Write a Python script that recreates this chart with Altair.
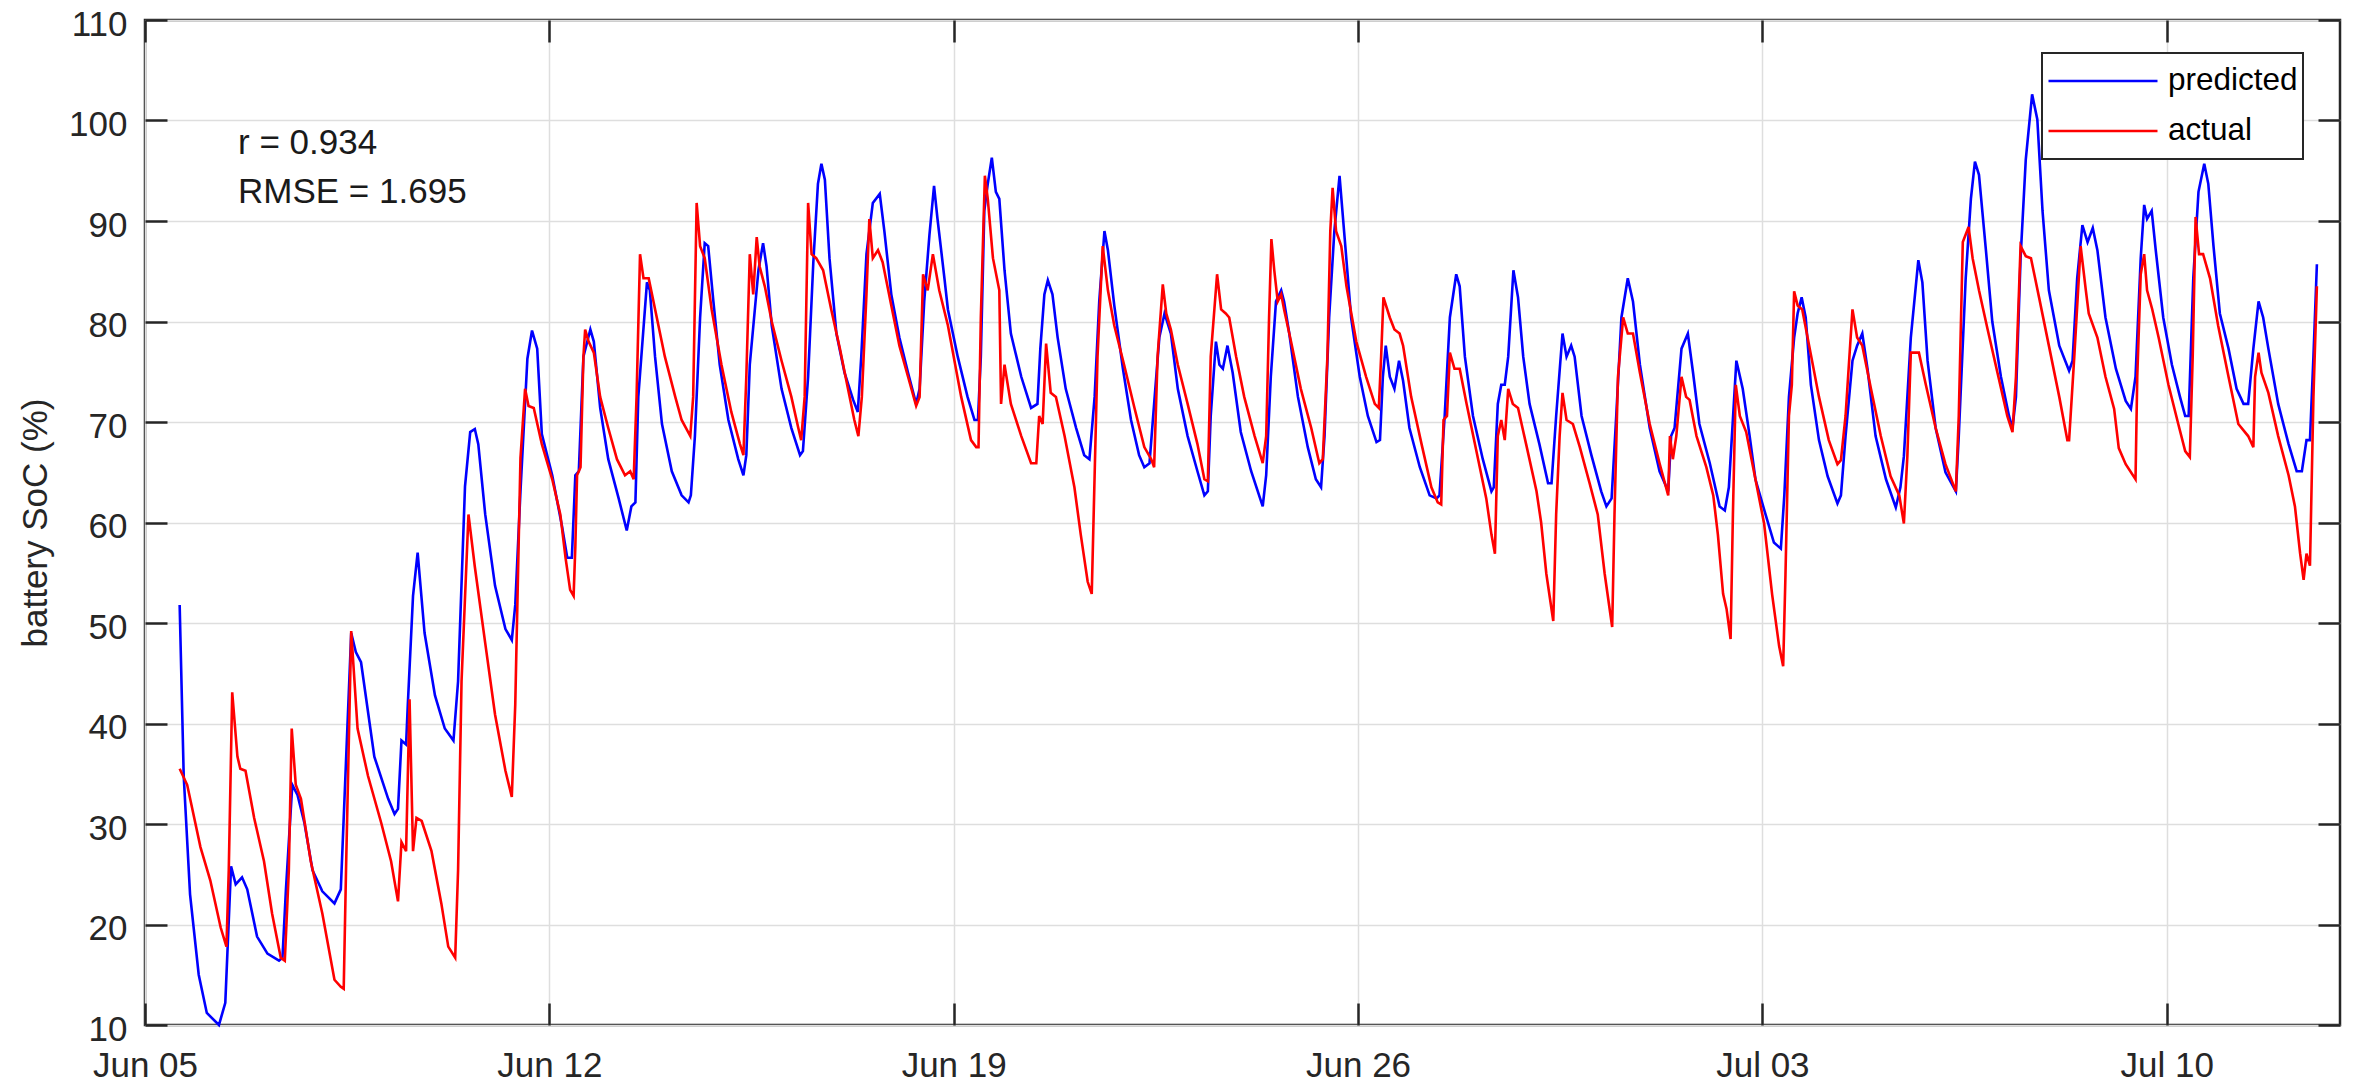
import altair as alt
import pandas as pd

# ---- data: (days since Jun 05 00:00, battery SoC %) ----
predicted_points = [
    (0.60, 51.8), (0.67, 34.8), (0.78, 23.0), (0.93, 15.0), (1.07, 11.2), (1.28, 10.0), (1.39, 12.2),
    (1.49, 25.8), (1.57, 24.0), (1.68, 24.7), (1.77, 23.5), (1.94, 18.8), (2.12, 17.1), (2.32, 16.4),
    (2.38, 16.7), (2.44, 23.5), (2.55, 33.9), (2.64, 32.9), (2.76, 30.1), (2.90, 25.4), (3.07, 23.3),
    (3.28, 22.1), (3.39, 23.5), (3.57, 49.0), (3.65, 47.1), (3.74, 46.1), (3.97, 36.7), (4.21, 32.5),
    (4.32, 31.0), (4.38, 31.5), (4.44, 38.3), (4.52, 37.9), (4.55, 41.9), (4.64, 52.7), (4.72, 57.0),
    (4.84, 49.0), (5.02, 42.8), (5.19, 39.5), (5.34, 38.3), (5.42, 44.2), (5.54, 63.6), (5.63, 69.0),
    (5.71, 69.3), (5.77, 67.8), (5.89, 60.8), (6.06, 53.7), (6.24, 49.4), (6.35, 48.3), (6.41, 51.8),
    (6.50, 63.1), (6.62, 76.3), (6.70, 79.1), (6.79, 77.3), (6.87, 68.8),
    (7.05, 64.7), (7.22, 59.6), (7.31, 56.5), (7.39, 56.5), (7.45, 64.7), (7.51, 65.1), (7.59, 76.5),
    (7.71, 79.2), (7.77, 78.0), (7.88, 71.4), (8.02, 66.3), (8.20, 62.4), (8.34, 59.2), (8.38, 60.4),
    (8.42, 61.6), (8.49, 62.0), (8.54, 72.5), (8.69, 83.9), (8.74, 83.1), (8.83, 76.5), (8.95, 69.8),
    (9.12, 65.1), (9.29, 62.7), (9.41, 62.0), (9.45, 62.7), (9.52, 68.6), (9.61, 80.4), (9.69, 87.8),
    (9.75, 87.5), (9.84, 82.0), (9.95, 75.7), (10.10, 70.2), (10.27, 66.3), (10.36, 64.7), (10.41, 66.7),
    (10.47, 75.7), (10.62, 85.1), (10.70, 87.8), (10.76, 85.5), (10.85, 79.6), (11.02, 73.3), (11.19, 69.4),
    (11.34, 66.7), (11.39, 67.1), (11.48, 74.5), (11.57, 85.9), (11.65, 93.7), (11.71, 95.7), (11.77, 94.1),
    (11.85, 86.3), (11.97, 78.8), (12.11, 74.9), (12.26, 72.2), (12.34, 71.0), (12.40, 76.5), (12.49, 86.7),
    (12.60, 91.8), (12.72, 92.7), (12.80, 89.0), (12.92, 82.7), (13.06, 78.4), (13.21, 74.9), (13.35, 71.8),
    (13.41, 73.3), (13.49, 82.0), (13.58, 88.6), (13.66, 93.5), (13.72, 90.2), (13.84, 84.3), (13.90, 81.2),
    (14.07, 76.5), (14.24, 72.5), (14.36, 70.2), (14.42, 70.2), (14.47, 76.5), (14.53, 91.0), (14.59, 93.7),
    (14.66, 96.3), (14.73, 92.9), (14.79, 92.2), (14.88, 85.1), (14.99, 78.8), (15.17, 74.5), (15.34, 71.4),
    (15.45, 71.8), (15.50, 77.3), (15.57, 82.7), (15.63, 84.1), (15.71, 82.7), (15.80, 78.4), (15.94, 73.3),
    (16.12, 69.4), (16.26, 66.7), (16.35, 66.3), (16.44, 72.5), (16.52, 82.0), (16.61, 89.0), (16.67, 87.1),
    (16.78, 81.6), (16.93, 75.3), (17.07, 70.2), (17.21, 66.7), (17.30, 65.5), (17.39, 65.9), (17.47, 71.8),
    (17.56, 78.4), (17.65, 80.8), (17.76, 78.8), (17.88, 73.3), (18.05, 68.6), (18.22, 65.1), (18.34, 62.7),
    (18.40, 63.1), (18.45, 70.6), (18.54, 78.0), (18.60, 75.7), (18.66, 75.3), (18.74, 77.6), (18.83, 74.9),
    (18.97, 69.0), (19.15, 65.1), (19.35, 61.6), (19.41, 64.7), (19.49, 74.5), (19.58, 82.0), (19.67, 83.1),
    (19.72, 82.0), (19.81, 78.8), (19.96, 72.5), (20.13, 67.5), (20.27, 64.3), (20.36, 63.5), (20.42, 68.6),
    (20.50, 80.4), (20.59, 89.0), (20.68, 94.5), (20.77, 88.2), (20.88, 80.4), (21.03, 74.5), (21.17, 70.6),
    (21.32, 68.0), (21.38, 68.2), (21.43, 74.5), (21.48, 77.6), (21.55, 74.5), (21.63, 73.3), (21.71, 76.1),
    (21.78, 74.1), (21.89, 69.4), (22.07, 65.5), (22.24, 62.7), (22.36, 62.4), (22.41, 62.7), (22.50, 70.6),
    (22.59, 80.4), (22.70, 84.7), (22.76, 83.5), (22.85, 76.5), (22.99, 70.6), (23.16, 66.3), (23.31, 63.1),
    (23.35, 63.5), (23.42, 71.8), (23.48, 73.7), (23.54, 73.7), (23.60, 76.5), (23.69, 85.1), (23.77, 82.4),
    (23.86, 76.5), (23.97, 71.8), (24.14, 67.8), (24.29, 63.9), (24.35, 63.9), (24.43, 70.6), (24.54, 78.8),
    (24.61, 76.5), (24.69, 77.6), (24.75, 76.5), (24.87, 70.6), (25.04, 66.7), (25.21, 63.1), (25.30, 61.6),
    (25.39, 62.4), (25.47, 70.6), (25.56, 80.4), (25.67, 84.3), (25.76, 82.0), (25.88, 75.7), (26.05, 69.4),
    (26.22, 65.1), (26.37, 63.1), (26.42, 68.6), (26.48, 69.4), (26.60, 77.3), (26.71, 78.8), (26.80, 74.9),
    (26.91, 69.8), (27.09, 65.9), (27.26, 61.6), (27.35, 61.2), (27.42, 63.5), (27.55, 76.1), (27.66, 73.3),
    (27.78, 68.6), (27.88, 64.3), (28.06, 60.7), (28.20, 58.0), (28.32, 57.4), (28.38, 62.7), (28.46, 72.5),
    (28.55, 78.4), (28.61, 80.8), (28.68, 82.4), (28.75, 80.4), (28.84, 73.7), (28.98, 68.2), (29.13, 64.6),
    (29.30, 61.9), (29.36, 62.7), (29.44, 68.6), (29.56, 76.1), (29.64, 77.6), (29.73, 78.8), (29.82, 75.3),
    (29.96, 68.6), (30.14, 64.3), (30.31, 61.5), (30.39, 63.5), (30.45, 66.6), (30.57, 78.4), (30.70, 86.1),
    (30.77, 83.9), (30.86, 76.1), (31.00, 69.4), (31.17, 65.0), (31.35, 63.1), (31.40, 68.6), (31.52, 84.3),
    (31.61, 92.2), (31.68, 95.9), (31.75, 94.6), (31.87, 87.1), (31.98, 80.0), (32.13, 74.5), (32.27, 70.6),
    (32.33, 69.4), (32.39, 72.5), (32.47, 86.3), (32.56, 96.1), (32.67, 102.6), (32.76, 100.1), (32.85, 91.0),
    (32.96, 83.1), (33.14, 77.6), (33.31, 75.1), (33.37, 76.1), (33.45, 84.3), (33.54, 89.6), (33.63, 87.9),
    (33.72, 89.3), (33.80, 87.1), (33.94, 80.4), (34.12, 75.3), (34.29, 72.1), (34.38, 71.3), (34.46, 74.5),
    (34.55, 86.3), (34.61, 91.6), (34.66, 90.2), (34.74, 91.0), (34.81, 87.1), (34.94, 80.4), (35.09, 75.7),
    (35.23, 72.5), (35.32, 70.6), (35.38, 70.6), (35.46, 84.3), (35.55, 92.9), (35.65, 95.7), (35.72, 93.7),
    (35.81, 87.5), (35.92, 80.8), (36.07, 77.3), (36.21, 73.3), (36.33, 71.8), (36.41, 71.8), (36.50, 77.3),
    (36.59, 82.0), (36.67, 80.4), (36.76, 77.3), (36.93, 71.8), (37.11, 67.8), (37.25, 65.1), (37.34, 65.1),
    (37.42, 68.2), (37.48, 68.2), (37.54, 76.5), (37.60, 85.7),
]

actual_points = [
    (0.60, 35.5), (0.73, 33.9), (0.96, 27.7), (1.13, 24.4), (1.31, 19.7), (1.41, 17.8), (1.45, 25.4),
    (1.51, 43.1), (1.60, 36.7), (1.65, 35.5), (1.74, 35.3), (1.89, 30.6), (2.06, 26.3), (2.20, 21.1),
    (2.35, 16.7), (2.42, 16.4), (2.45, 20.2), (2.49, 25.4), (2.54, 39.5), (2.61, 33.9), (2.70, 32.5),
    (2.87, 26.3), (3.07, 21.1), (3.28, 14.5), (3.39, 13.8), (3.44, 13.6), (3.48, 25.4), (3.57, 49.2),
    (3.68, 39.5), (3.86, 34.8), (4.09, 30.1), (4.26, 26.3), (4.38, 22.3), (4.44, 28.2), (4.52, 27.3),
    (4.58, 42.4), (4.64, 27.3), (4.70, 30.6), (4.79, 30.3), (4.96, 27.3), (5.13, 22.1), (5.25, 17.8),
    (5.37, 16.7), (5.42, 25.4), (5.48, 44.2), (5.60, 60.8), (5.71, 55.6), (5.89, 48.0), (6.06, 40.9),
    (6.24, 35.3), (6.35, 32.7), (6.41, 41.9), (6.50, 66.4), (6.58, 73.3), (6.64, 71.6), (6.73, 71.4),
    (6.87, 67.8),
    (7.05, 64.3), (7.19, 60.8), (7.28, 56.5), (7.36, 53.3), (7.42, 52.7), (7.45, 57.6), (7.48, 64.7),
    (7.54, 65.5), (7.59, 76.5), (7.62, 79.2), (7.68, 78.0), (7.77, 76.9), (7.88, 72.5), (8.02, 69.4),
    (8.17, 66.3), (8.31, 64.7), (8.40, 65.1), (8.46, 64.3), (8.51, 72.5), (8.57, 86.7), (8.63, 84.3),
    (8.72, 84.3), (8.86, 80.4), (9.00, 76.5), (9.18, 72.5), (9.29, 70.2), (9.44, 68.6), (9.49, 72.5),
    (9.55, 91.8), (9.61, 87.5), (9.69, 86.3), (9.81, 81.2), (9.98, 75.7), (10.15, 71.0), (10.30, 67.8),
    (10.36, 66.7), (10.41, 74.5), (10.47, 86.7), (10.53, 82.7), (10.59, 88.4), (10.64, 85.5), (10.73, 83.5),
    (10.85, 80.0), (11.02, 76.1), (11.19, 72.5), (11.31, 69.4), (11.36, 68.2), (11.42, 72.5), (11.48, 91.8),
    (11.54, 86.7), (11.62, 86.3), (11.74, 85.1), (11.88, 81.2), (12.03, 77.3), (12.17, 73.3), (12.28, 70.2),
    (12.35, 68.6), (12.41, 72.5), (12.49, 82.7), (12.54, 90.2), (12.60, 86.3), (12.69, 87.1), (12.77, 85.9),
    (12.92, 81.6), (13.06, 77.6), (13.21, 74.5), (13.35, 71.6), (13.41, 72.5), (13.47, 84.7), (13.55, 83.1),
    (13.64, 86.7), (13.75, 83.1), (13.90, 79.6), (14.13, 72.5), (14.30, 68.2), (14.39, 67.5), (14.43, 67.5),
    (14.47, 80.4), (14.54, 94.5), (14.59, 92.2), (14.68, 86.3), (14.79, 83.1), (14.82, 71.8), (14.88, 75.7),
    (14.99, 71.8), (15.17, 68.6), (15.34, 65.9), (15.43, 65.9), (15.48, 70.6), (15.54, 69.8), (15.60, 77.8),
    (15.68, 72.9), (15.77, 72.5), (15.92, 68.6), (16.09, 63.5), (16.20, 58.8), (16.32, 54.1), (16.39, 52.9),
    (16.44, 64.7), (16.49, 76.5), (16.58, 87.5), (16.67, 83.1), (16.78, 79.6), (16.95, 75.7), (17.13, 71.4),
    (17.30, 67.5), (17.42, 66.3), (17.47, 65.5), (17.53, 76.5), (17.62, 83.7), (17.68, 80.8), (17.76, 79.2),
    (17.88, 75.7), (18.05, 71.8), (18.22, 67.8), (18.34, 64.3), (18.40, 64.1), (18.45, 76.5), (18.56, 84.7),
    (18.63, 81.2), (18.71, 80.8), (18.77, 80.4), (18.89, 76.5), (19.03, 72.5), (19.21, 68.6), (19.35, 65.9),
    (19.41, 68.6), (19.46, 80.4), (19.50, 88.2), (19.55, 85.1), (19.61, 82.0), (19.67, 82.7), (19.72, 81.2),
    (19.84, 78.0), (20.01, 73.3), (20.19, 69.4), (20.33, 65.9), (20.39, 66.3), (20.47, 76.5), (20.52, 89.0),
    (20.56, 93.3), (20.62, 89.0), (20.71, 87.5), (20.80, 83.5), (20.97, 78.0), (21.14, 74.5), (21.29, 71.8),
    (21.36, 71.4), (21.40, 76.5), (21.44, 82.4), (21.55, 80.4), (21.63, 79.2), (21.72, 78.8), (21.78, 77.6),
    (21.92, 72.5), (22.10, 67.8), (22.27, 63.5), (22.38, 62.0), (22.44, 61.8), (22.48, 70.2), (22.54, 70.6),
    (22.59, 76.9), (22.67, 75.3), (22.76, 75.3), (22.88, 71.8), (23.05, 67.1), (23.22, 62.4), (23.31, 58.8),
    (23.37, 56.9), (23.42, 68.6), (23.48, 70.2), (23.54, 68.2), (23.60, 73.3), (23.68, 71.8), (23.77, 71.4),
    (23.91, 67.8), (24.09, 63.1), (24.17, 60.0), (24.26, 54.9), (24.38, 50.2), (24.43, 60.8), (24.49, 68.6),
    (24.54, 72.9), (24.61, 70.2), (24.72, 69.8), (24.84, 67.5), (25.01, 63.9), (25.15, 60.8), (25.27, 54.9),
    (25.40, 49.6), (25.44, 60.8), (25.50, 74.5), (25.59, 80.4), (25.67, 78.8), (25.76, 78.8), (25.88, 74.9),
    (26.05, 69.8), (26.22, 65.9), (26.37, 62.7), (26.40, 68.6), (26.45, 66.3), (26.51, 68.6), (26.60, 74.5),
    (26.68, 72.5), (26.74, 72.2), (26.86, 68.6), (27.03, 65.5), (27.15, 62.7), (27.23, 58.8), (27.32, 52.9),
    (27.38, 51.4), (27.45, 48.4), (27.49, 60.8), (27.54, 73.7), (27.61, 70.6), (27.72, 69.0), (27.88, 64.3),
    (28.03, 59.9), (28.17, 52.8), (28.29, 47.7), (28.36, 45.7), (28.40, 54.8), (28.46, 70.6), (28.51, 73.7),
    (28.55, 83.0), (28.61, 81.6), (28.69, 81.2), (28.81, 77.6), (28.98, 72.5), (29.15, 68.2), (29.30, 65.8),
    (29.36, 66.2), (29.44, 70.6), (29.56, 81.2), (29.64, 78.4), (29.73, 77.6), (29.88, 73.3), (30.05, 68.6),
    (30.22, 64.6), (30.37, 62.7), (30.45, 59.9), (30.51, 66.6), (30.57, 76.9), (30.71, 76.9), (30.83, 73.7),
    (31.00, 69.4), (31.17, 65.8), (31.35, 63.1), (31.40, 70.6), (31.47, 87.9), (31.57, 89.4), (31.64, 86.3),
    (31.75, 83.1), (31.90, 79.2), (32.07, 74.9), (32.24, 70.6), (32.33, 69.0), (32.39, 74.5), (32.47, 87.5),
    (32.56, 86.5), (32.65, 86.3), (32.79, 82.4), (32.96, 77.6), (33.14, 72.5), (33.28, 68.2), (33.31, 68.2),
    (33.40, 76.5), (33.51, 87.5), (33.60, 83.1), (33.65, 80.8), (33.80, 78.4), (33.94, 74.5), (34.09, 71.3),
    (34.17, 67.4), (34.29, 65.8), (34.46, 64.3), (34.49, 74.5), (34.55, 84.7), (34.61, 86.7), (34.66, 83.1),
    (34.75, 81.2), (34.86, 78.4), (35.03, 73.7), (35.20, 69.8), (35.32, 67.1), (35.40, 66.5), (35.45, 76.5),
    (35.50, 90.4), (35.56, 86.7), (35.63, 86.7), (35.75, 84.3), (35.89, 79.6), (36.07, 74.5), (36.24, 69.8),
    (36.41, 68.6), (36.50, 67.5), (36.53, 74.5), (36.59, 76.9), (36.64, 74.9), (36.76, 72.9), (36.93, 68.6),
    (37.11, 64.7), (37.22, 61.6), (37.31, 56.9), (37.37, 54.3), (37.42, 56.9), (37.48, 55.7), (37.54, 72.5),
    (37.60, 83.5),
]

series_names = ["predicted", "actual"]
series_colors = ["#0000ff", "#ff0000"]
x_tick_days = [(6, 5), (6, 12), (6, 19), (6, 26), (7, 3), (7, 10)]
y_ticks = [10, 20, 30, 40, 50, 60, 70, 80, 90, 100, 110]
y_domain = [10, 110]
stats_labels = ["r = 0.934", "RMSE = 1.695"]
stats_days = [1.61, 1.61]
stats_values = [96.7, 91.8]

FONT = "Liberation Sans"
AX = "#262626"
BASE = pd.Timestamp("2018-06-05")


def to_time(days):
    return (BASE + pd.to_timedelta(pd.Series(days), unit="D")).dt.strftime("%Y-%m-%dT%H:%M:%S")


def frame(points, name):
    df = pd.DataFrame(points, columns=["day", "soc"])
    df["time"] = to_time(df["day"])
    df["series"] = name
    return df


pred_df = frame(predicted_points, series_names[0])
act_df = frame(actual_points, series_names[1])
stats_df = pd.DataFrame({"time": to_time(stats_days), "soc": stats_values, "label": stats_labels})

x_values = [alt.DateTime(year=2018, month=m, date=d) for m, d in x_tick_days]
x_scale = alt.Scale(domain=[alt.DateTime(year=2018, month=6, date=5),
                            alt.DateTime(year=2018, month=7, date=13)])
y_scale = alt.Scale(domain=y_domain, nice=False, zero=False)
color_scale = alt.Scale(domain=series_names, range=series_colors)

legend = alt.Legend(
    title=None, orient="none", legendX=1897, legendY=33,
    symbolType="stroke", symbolSize=11881, symbolStrokeWidth=2.6,
    labelFont=FONT, labelFontSize=31.5, labelColor="#000000", labelOffset=9,
    strokeColor=AX, fillColor="#ffffff", padding=5, rowPadding=4, clipHeight=46,
)

main_x_axis = alt.Axis(orient="bottom", values=x_values, format="%b %d", grid=True, ticks=False,
                       tickSize=0, domain=False, labelPadding=23, labelFlush=False, title=None)
main_y_axis = alt.Axis(orient="left", values=y_ticks, grid=True, ticks=False, tickSize=0,
                       domain=False, labelPadding=18, labelOffset=4,
                       title="battery SoC (%)", titlePadding=15)

blue = alt.Chart(pred_df).mark_line(strokeWidth=2.6).encode(
    x=alt.X("time:T", scale=x_scale, axis=main_x_axis),
    y=alt.Y("soc:Q", scale=y_scale, axis=main_y_axis),
    color=alt.Color("series:N", scale=color_scale, legend=legend),
)
red = alt.Chart(act_df).mark_line(strokeWidth=2.6).encode(
    x=alt.X("time:T", scale=x_scale, axis=None),
    y=alt.Y("soc:Q", scale=y_scale, axis=None),
    color=alt.Color("series:N", scale=color_scale, legend=legend),
)
stats = alt.Chart(stats_df).mark_text(align="left", baseline="alphabetic", font=FONT,
                                      fontSize=35, color="#1a1a1a").encode(
    x=alt.X("time:T", scale=x_scale, axis=None),
    y=alt.Y("soc:Q", scale=y_scale, axis=None),
    text="label:N",
)


def tick_layer(xo, yo):
    return alt.Chart(pred_df).mark_point(opacity=0).encode(
        x=alt.X("time:T", scale=x_scale,
                axis=alt.Axis(orient=xo, offset=-22, values=x_values, tickSize=22, tickWidth=2.5,
                              tickColor=AX, labels=False, grid=False, domain=False, title=None, zindex=1)),
        y=alt.Y("soc:Q", scale=y_scale,
                axis=alt.Axis(orient=yo, offset=-22, values=y_ticks, tickSize=22, tickWidth=2.5,
                              tickColor=AX, labels=False, grid=False, domain=False, title=None, zindex=1)),
    )


chart = alt.layer(
    blue, red, stats, tick_layer("bottom", "left"), tick_layer("top", "right")
).resolve_axis(
    x="independent", y="independent"
).properties(
    width=2195, height=1005,
    autosize=alt.AutoSizeParams(type="none"),
    padding={"left": 137, "top": 12, "right": 6, "bottom": 55},
).configure(
    font=FONT
).configure_view(
    stroke=AX, strokeWidth=2.5
).configure_legend(
    strokeWidth=2
).configure_axis(
    labelFont=FONT, labelFontSize=35, labelColor=AX,
    titleFont=FONT, titleFontSize=35, titleColor=AX, titleFontWeight="normal",
    gridColor="#dedede", gridWidth=1.5, labelOverlap=False,
)

chart.save("out.html", embed_options={"renderer": "svg", "actions": False})
